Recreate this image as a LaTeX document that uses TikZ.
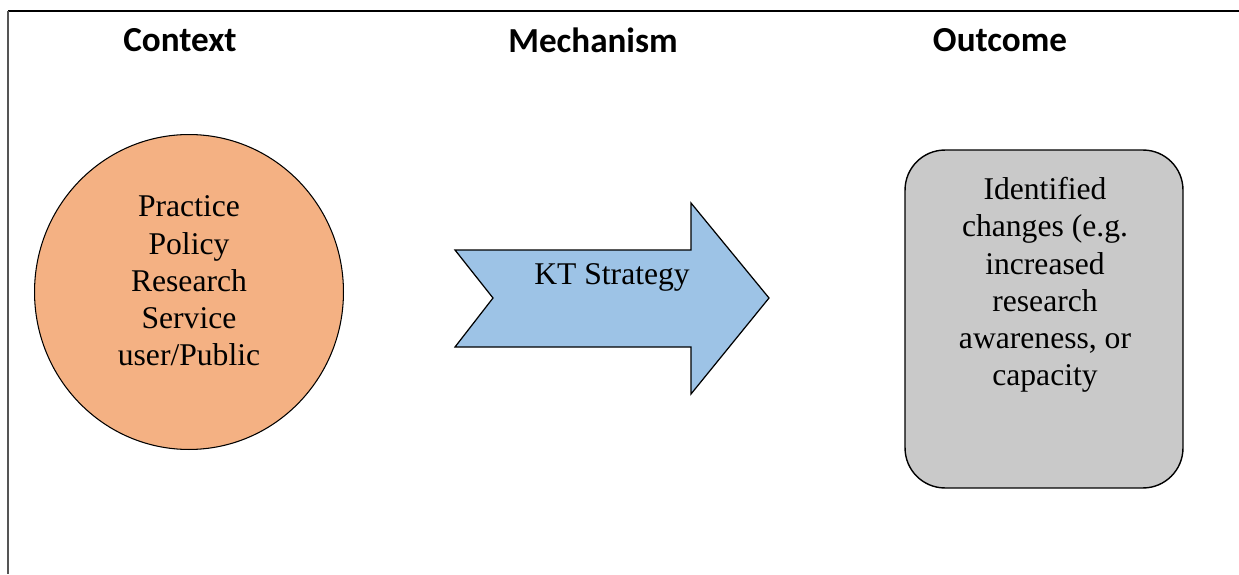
\documentclass[tikz,border=0pt]{standalone}
\usepackage{fontspec}
\setmainfont{Liberation Serif}
\newfontfamily\headfont{Carlito}
\usetikzlibrary{positioning, shapes.geometric}
\usepackage{xcolor}
\definecolor{contextorange}{RGB}{244, 177, 131}
\definecolor{strategyblue}{RGB}{157, 195, 230}
\definecolor{outcomegray}{RGB}{201, 201, 201}
\definecolor{framegray}{RGB}{85, 85, 85}

\tikzset{
    heading/.style={font=\headfont\bfseries\fontsize{20}{24}\selectfont},
    bodytext/.style={align=center, font=\fontsize{18}{21.2}\selectfont, inner sep=0pt},
}

\begin{document}
\begin{tikzpicture}[x=0.02cm, y=-0.02cm]
    \useasboundingbox (0,0) rectangle (1239,574);
    % Marco
    \draw[line width=1.1pt] (8,11) -- (1239,11);
    \draw[framegray, line width=1.1pt] (8,11) -- (8,574);
    % Titulos
    \node[heading] (ctxtitle) at (180,40) {Context};
    \node[heading] (mechtitle) at (593,40) {Mechanism};
    \node[heading] (outtitle) at (1000,40) {Outcome};
    % Contexto
    \node[ellipse, draw, line width=0.6pt, fill=contextorange, minimum width=6.18cm, minimum height=6.3cm] (context) at (189,292) {};
    \node[bodytext] (contexttext) at (189,281) {Practice\\Policy\\Research\\Service\\user/Public};
    % Mecanismo
    \draw[line width=0.7pt, fill=strategyblue] (455,250) -- (691,250) -- (691,203) -- (769,298)
        -- (691,394) -- (691,347) -- (455,347) -- (493,298) -- cycle;
    \node[bodytext] (strategy) at (612,277) {KT Strategy};
    % Resultado
    \node[draw, line width=0.8pt, fill=outcomegray, rounded corners=0.8cm, minimum width=5.56cm, minimum height=6.76cm] (outcome) at (1044,319) {};
    \node[bodytext] (outcometext) at (1045,285) {Identified\\changes (e.g.\\increased\\research\\awareness, or\\capacity};
\end{tikzpicture}
\end{document}
